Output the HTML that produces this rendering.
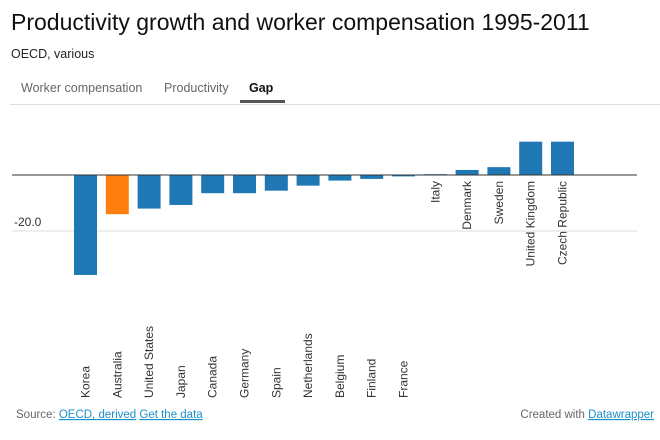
<!DOCTYPE html>
<html><head><meta charset="utf-8"><style>
body{margin:0;background:#fff;width:660px;height:435px;overflow:hidden;font-family:"Liberation Sans",Arial,sans-serif}
</style></head><body>
<svg width="660" height="435" xmlns="http://www.w3.org/2000/svg" font-family="Liberation Sans, Arial, sans-serif">
<text x="11" y="30" font-size="23" fill="#111">Productivity growth and worker compensation 1995-2011</text>
<text x="11" y="58" font-size="12.5" fill="#222">OECD, various</text>
<text x="21" y="92" font-size="12.5" fill="#666">Worker compensation</text>
<text x="164" y="92" font-size="12.5" fill="#666">Productivity</text>
<text x="249" y="92" font-size="12.5" fill="#111" font-weight="bold">Gap</text>
<rect x="10" y="104" width="650" height="1" fill="#ddd"/>
<rect x="240" y="100" width="45" height="3" fill="#555"/>
<g id="plot"></g>
<text x="16" y="418" font-size="11.5" fill="#666">Source: <tspan fill="#1a8fc9" text-decoration="underline">OECD, derived</tspan> <tspan fill="#1a8fc9" text-decoration="underline">Get the data</tspan></text>
<text x="654" y="418" font-size="11.5" fill="#666" text-anchor="end">Created with <tspan fill="#1a8fc9" text-decoration="underline">Datawrapper</tspan></text>
</svg>
<script>
const categories=["Korea","Australia","United States","Japan","Canada","Germany","Spain","Netherlands","Belgium","Finland","France","Italy","Denmark","Sweden","United Kingdom","Czech Republic"];
const values=[-35.7,-14,-12,-10.7,-6.5,-6.5,-5.6,-3.8,-2,-1.4,-0.5,0.3,1.8,2.8,11.9,11.9];
const highlight=["Australia"];
const yTicks=[-20];
const yTickLabels=["-20.0"];
const NS="http://www.w3.org/2000/svg";
const g=document.getElementById('plot');
const y0=175, pxPerUnit=2.8;
function y(v){return y0-v*pxPerUnit;}
function x(i){return 74+i*31.8;}
const bw=23;
function mk(t,a){const e=document.createElementNS(NS,t);for(const k in a)e.setAttribute(k,a[k]);g.appendChild(e);return e;}
yTicks.forEach((t,i)=>{
  const l=mk('line',{x1:12,x2:637,y1:y(t),y2:y(t),stroke:'#ddd','stroke-width':1});
  
  
  const tx=mk('text',{x:14,y:y(t)-5,'font-size':12,fill:'#333'});
  tx.textContent=yTickLabels[i];
  
  
});
categories.forEach((c,i)=>{
  const v=values[i];
  const top=Math.min(y(v),y0),h=Math.max(Math.abs(y(v)-y0),1);
  const r=mk('rect',{x:x(i),y:top,width:bw,height:h,fill:highlight.includes(c)?'#ff7f0e':'#1f77b4'});
  
  
  const cx=x(i)+bw/2+4;
  let t;
  if(v<0){
    t=mk('text',{x:0,y:0,'font-size':12,fill:'#333',transform:`translate(${cx},398) rotate(-90)`});
  } else {
    t=mk('text',{x:0,y:0,'font-size':12,fill:'#333','text-anchor':'end',transform:`translate(${cx},181) rotate(-90)`});
  }
  t.textContent=c;
  
  
});
const z=mk('line',{x1:12,x2:637,y1:y0,y2:y0,stroke:'#333','stroke-width':1});


</script>
</body></html>
